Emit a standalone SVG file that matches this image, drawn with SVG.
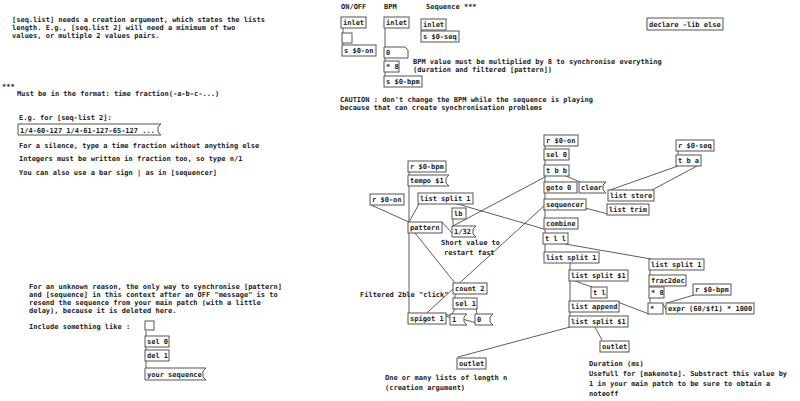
<svg xmlns="http://www.w3.org/2000/svg" width="800" height="401" viewBox="0 0 800 401">
<style>
text{font-family:"DejaVu Sans Mono","Liberation Mono",monospace;font-size:7px;font-weight:bold;fill:#222}
.o{fill:#fff;stroke:#555;stroke-width:1}
.m{fill:#fff;stroke:#555;stroke-width:1}
.c{stroke:#333;stroke-width:0.8;fill:none}
</style>
<rect width="800" height="401" fill="#fff"/>
<g id="comments">
<text x="12" y="22">[seq.list] needs a creation argument, which states the lists</text>
<text x="12" y="30">length. E.g., [seq.list 2] will need a minimum of two</text>
<text x="12" y="38">values, or multiple 2 values pairs.</text>
<text x="2" y="89">***</text>
<text x="17" y="96">Must be in the format: time fraction(-a-b-c-...)</text>
<text x="19" y="120">E.g. for [seq-list 2]:</text>
<text x="19" y="148">For a silence, type a time fraction without anything else</text>
<text x="19" y="161">Integers must be written in fraction too, so type n/1</text>
<text x="19" y="175">You can also use a bar sign | as in [sequencer]</text>
<text x="341" y="9">ON/OFF</text>
<text x="384" y="9">BPM</text>
<text x="426" y="9">Sequence ***</text>
<text x="413" y="64">BPM value must be multiplied by 8 to synchronise everything</text>
<text x="413" y="72">(duration and filtered [pattern])</text>
<text x="340" y="102">CAUTION : don't change the BPM while the sequence is playing</text>
<text x="340" y="110">because that can create synchronisation problems</text>
<text x="29" y="289">For an unknown reason, the only way to synchronise [pattern]</text>
<text x="29" y="297">and [sequence] in this context after an OFF "message" is to</text>
<text x="29" y="305">resend the sequence from your main patch (with a little</text>
<text x="29" y="313">delay), because it is deleted here.</text>
<text x="29" y="329">Include something like :</text>
<text x="441" y="245">Short value to</text>
<text x="444" y="255">restart fast</text>
<text x="360" y="297">Filtered 2ble "click"</text>
<text x="385" y="380">One or many lists of length n</text>
<text x="385" y="390">(creation argument)</text>
<text x="589" y="366">Duration (ms)</text>
<text x="589" y="376">Usefull for [makenote]. Substract this value by</text>
<text x="589" y="386">1 in your main patch to be sure to obtain a</text>
<text x="589" y="396">noteoff</text>
</g>
<g id="connectors">
<path class="c" d="M343 28V33M343 43V45M385 28V47M385 58V61M385 72V76M422 30V31M146 331V336M146 347V350M146 361V368"/>
<path class="c" d="M409 172V175M409 186V222M409 233V313M371 205L409 222M419 204L409 222M430 196L544 229M545 177L453 226M442 222L452 233M453 219V226M415 233L455 283M418 321L545 205M455 294V298M455 309L452 314M476 309L477 314M463 325L441 313M480 324L441 313"/>
<path class="c" d="M545 146V149M545 160V165M545 176V182M545 193V199M545 210V218M545 229V233M545 244V252M566 176L580 182M585 208L608 214M678 151V155M678 166L610 190M697 166L652 190M565 244L651 259M570 263V270M575 281L592 287M570 281V301M570 312V316M650 270V275M650 286V287M650 298V303M694 295L667 303M663 304L668 313M649 314L615 301M570 327L458 357M595 327L602 340"/>
</g>
<g id="nodes">
<g id="n-msg1"><path class="m" d="M18 124H161L158 127V132L161 135H18Z"/><text x="20" y="133">1/4-60-127 1/4-61-127-65-127 ...</text></g>
<g id="n-in1"><rect class="o" x="341" y="17" width="25" height="11"/><text x="343" y="25">inlet</text></g>
<g id="n-in2"><rect class="o" x="384" y="17" width="25" height="11"/><text x="386" y="25">inlet</text></g>
<g id="n-in3"><rect class="o" x="421" y="19" width="25" height="11"/><text x="423" y="27">inlet</text></g>
<g id="n-sseq"><rect class="o" x="421" y="31" width="38" height="11"/><text x="423" y="39">s $0-seq</text></g>
<g id="n-tgl"><rect class="o" x="342" y="33" width="10" height="10"/></g>
<g id="n-son"><rect class="o" x="342" y="45" width="34" height="11"/><text x="344" y="53">s $0-on</text></g>
<g id="n-num"><path class="o" d="M384 47H405L408 50V58H384Z"/><text x="386" y="55">0</text></g>
<g id="n-m8"><rect class="o" x="384" y="61" width="15" height="11"/><text x="386" y="69">* 8</text></g>
<g id="n-sbpm"><rect class="o" x="384" y="76" width="38" height="11"/><text x="386" y="84">s $0-bpm</text></g>
<g id="n-decl"><rect class="o" x="647" y="18" width="76" height="12"/><text x="649" y="27">declare -lib else</text></g>
<g id="n-tgl2"><rect class="o" x="145" y="321" width="9" height="9"/></g>
<g id="n-sel0b"><rect class="o" x="145" y="336" width="24" height="11"/><text x="147" y="344">sel 0</text></g>
<g id="n-del"><rect class="o" x="145" y="350" width="24" height="11"/><text x="147" y="358">del 1</text></g>
<g id="n-yseq"><path class="m" d="M145 368H206L203 371V377L206 380H145Z"/><text x="147" y="377">your sequence</text></g>
<g id="n-rbpm"><rect class="o" x="408" y="161" width="38" height="11"/><text x="410" y="169">r $0-bpm</text></g>
<g id="n-tempo"><path class="m" d="M408 175H449L446 178V183L449 186H408Z"/><text x="410" y="183">tempo $1</text></g>
<g id="n-ron"><rect class="o" x="370" y="194" width="34" height="11"/><text x="372" y="202">r $0-on</text></g>
<g id="n-ls1"><rect class="o" x="418" y="193" width="55" height="11"/><text x="420" y="201">list split 1</text></g>
<g id="n-lb"><rect class="o" x="452" y="208" width="14" height="11"/><text x="454" y="216">lb</text></g>
<g id="n-pat"><rect class="o" x="408" y="222" width="34" height="11"/><text x="410" y="230">pattern</text></g>
<g id="n-132"><path class="m" d="M452 226H476L473 229V234L476 237H452Z"/><text x="454" y="234">1/32</text></g>
<g id="n-cnt"><rect class="o" x="453" y="283" width="34" height="11"/><text x="455" y="291">count 2</text></g>
<g id="n-sel1"><rect class="o" x="453" y="298" width="24" height="11"/><text x="455" y="306">sel 1</text></g>
<g id="n-spig"><rect class="o" x="408" y="313" width="38" height="11"/><text x="410" y="321">spigot 1</text></g>
<g id="n-m1"><path class="m" d="M450 314H467L464 317V322L467 325H450Z"/><text x="452" y="322">1</text></g>
<g id="n-m0"><path class="m" d="M475 314H493L490 317V322L493 325H475Z"/><text x="477" y="322">0</text></g>
<g id="n-ron2"><rect class="o" x="544" y="135" width="34" height="11"/><text x="546" y="143">r $0-on</text></g>
<g id="n-sel0"><rect class="o" x="544" y="149" width="25" height="11"/><text x="546" y="157">sel 0</text></g>
<g id="n-tbb"><rect class="o" x="544" y="165" width="25" height="11"/><text x="546" y="173">t b b</text></g>
<g id="n-goto"><rect class="o" x="544" y="182" width="33" height="11"/><text x="546" y="190">goto 0</text></g>
<g id="n-clear"><path class="m" d="M579 182H606L603 185V190L606 193H579Z"/><text x="581" y="190">clear</text></g>
<g id="n-seqr"><rect class="o" x="544" y="199" width="42" height="11"/><text x="546" y="207">sequencer</text></g>
<g id="n-comb"><rect class="o" x="544" y="218" width="34" height="11"/><text x="546" y="226">combine</text></g>
<g id="n-tll"><rect class="o" x="543" y="233" width="25" height="11"/><text x="545" y="241">t l l</text></g>
<g id="n-ls1b"><rect class="o" x="544" y="252" width="55" height="11"/><text x="546" y="260">list split 1</text></g>
<g id="n-lsd"><rect class="o" x="569" y="270" width="59" height="11"/><text x="571" y="278">list split $1</text></g>
<g id="n-tl"><rect class="o" x="591" y="287" width="16" height="11"/><text x="593" y="295">t l</text></g>
<g id="n-lapp"><rect class="o" x="569" y="301" width="50" height="11"/><text x="571" y="309">list append</text></g>
<g id="n-lsd2"><rect class="o" x="569" y="316" width="59" height="11"/><text x="571" y="324">list split $1</text></g>
<g id="n-rseq"><rect class="o" x="676" y="140" width="38" height="11"/><text x="678" y="148">r $0-seq</text></g>
<g id="n-tba"><rect class="o" x="676" y="155" width="25" height="11"/><text x="678" y="163">t b a</text></g>
<g id="n-lstore"><rect class="o" x="608" y="190" width="46" height="11"/><text x="610" y="198">list store</text></g>
<g id="n-ltrim"><rect class="o" x="607" y="204" width="42" height="11"/><text x="609" y="212">list trim</text></g>
<g id="n-ls1c"><rect class="o" x="649" y="259" width="55" height="11"/><text x="651" y="267">list split 1</text></g>
<g id="n-f2d"><rect class="o" x="649" y="275" width="37" height="11"/><text x="651" y="283">frac2dec</text></g>
<g id="n-m8b"><rect class="o" x="649" y="287" width="15" height="11"/><text x="651" y="295">* 8</text></g>
<g id="n-rbpm2"><rect class="o" x="693" y="284" width="38" height="11"/><text x="695" y="292">r $0-bpm</text></g>
<g id="n-mul"><rect class="o" x="648" y="303" width="15" height="11"/><text x="650" y="311">*</text></g>
<g id="n-expr"><rect class="o" x="666" y="303" width="88" height="11"/><text x="668" y="311">expr (60/$f1) * 1000</text></g>
<g id="n-out2"><rect class="o" x="600" y="341" width="29" height="11"/><text x="602" y="349">outlet</text></g>
<g id="n-out1"><rect class="o" x="457" y="358" width="29" height="11"/><text x="459" y="366">outlet</text></g>
</g>
</svg>
